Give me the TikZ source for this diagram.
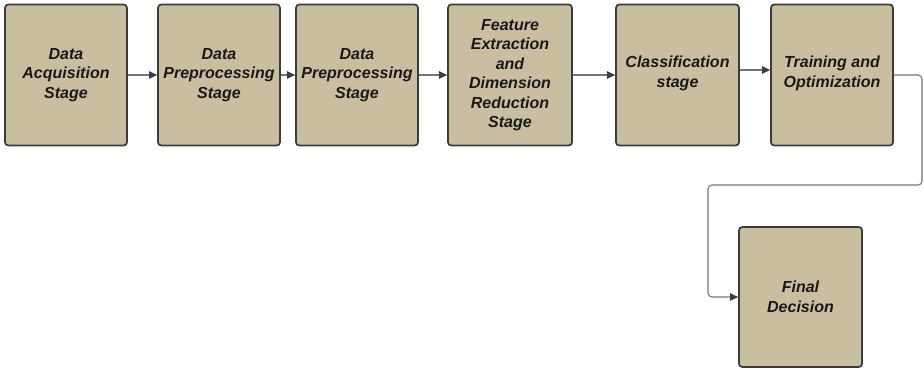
\documentclass[tikz,border=0pt]{standalone}
\usepackage{fontspec}
\setmainfont{Liberation Sans}
\usetikzlibrary{arrows.meta}
\definecolor{boxfill}{RGB}{201,191,160}
\definecolor{boxline}{RGB}{60,60,60}
\definecolor{conn}{RGB}{115,115,120}
\definecolor{tip}{RGB}{55,60,72}
\tikzset{
  stagebox/.style={draw=boxline, fill=boxfill, line width=1.3pt, rounded corners=2.5pt,
    minimum height=105.75pt, align=center, inner sep=1pt,
    font=\fontsize{12}{14.6}\selectfont\bfseries\itshape, text=black!90},
  conn/.style={draw=conn, line width=0.8pt, -{Triangle[length=6pt,width=5.5pt,color=tip]}}
}
\begin{document}
\begin{tikzpicture}[x=0.75pt,y=-0.75pt]
\useasboundingbox (0,0) rectangle (924,369);
\node[stagebox, minimum width=91.5pt] (b1) at (66,75) {Data\\Acquisition\\Stage};
\node[stagebox, minimum width=91.5pt] (b2) at (219,75) {Data\\Preprocessing\\Stage};
\node[stagebox, minimum width=91.5pt] (b3) at (357,75) {Data\\Preprocessing\\Stage};
\node[stagebox, minimum width=93pt] (b4) at (510,75) {Feature\\Extraction\\and\\Dimension\\Reduction\\Stage};
\node[stagebox, minimum width=92.25pt] (b5) at (677.5,75) {Classification\\stage\\[-9.4pt]};
\node[stagebox, minimum width=91.5pt] (b6) at (832,75) {Training and\\Optimization\\[-9.4pt]};
\node[stagebox, minimum width=92.25pt, minimum height=105pt] (fd) at (800.5,297) {Final\\Decision};
\coordinate (c1) at (922,75);
\coordinate (c2) at (922,185);
\coordinate (c3) at (708,185);
\coordinate (c4) at (708,297);
\draw[conn] (b1.east) -- (b2.west);
\draw[conn] (b2.east) -- (b3.west);
\draw[conn] (b3.east) -- (b4.west);
\draw[conn] (b4.east) -- (b5.west);
\draw[conn] ([yshift=3.75pt]b5.east) -- ([yshift=3.75pt]b6.west);
\draw[conn, rounded corners=3pt] (b6.east) -- (c1) -- (c2) -- (c3) -- (c4) -- (fd.west);
\end{tikzpicture}
\end{document}
